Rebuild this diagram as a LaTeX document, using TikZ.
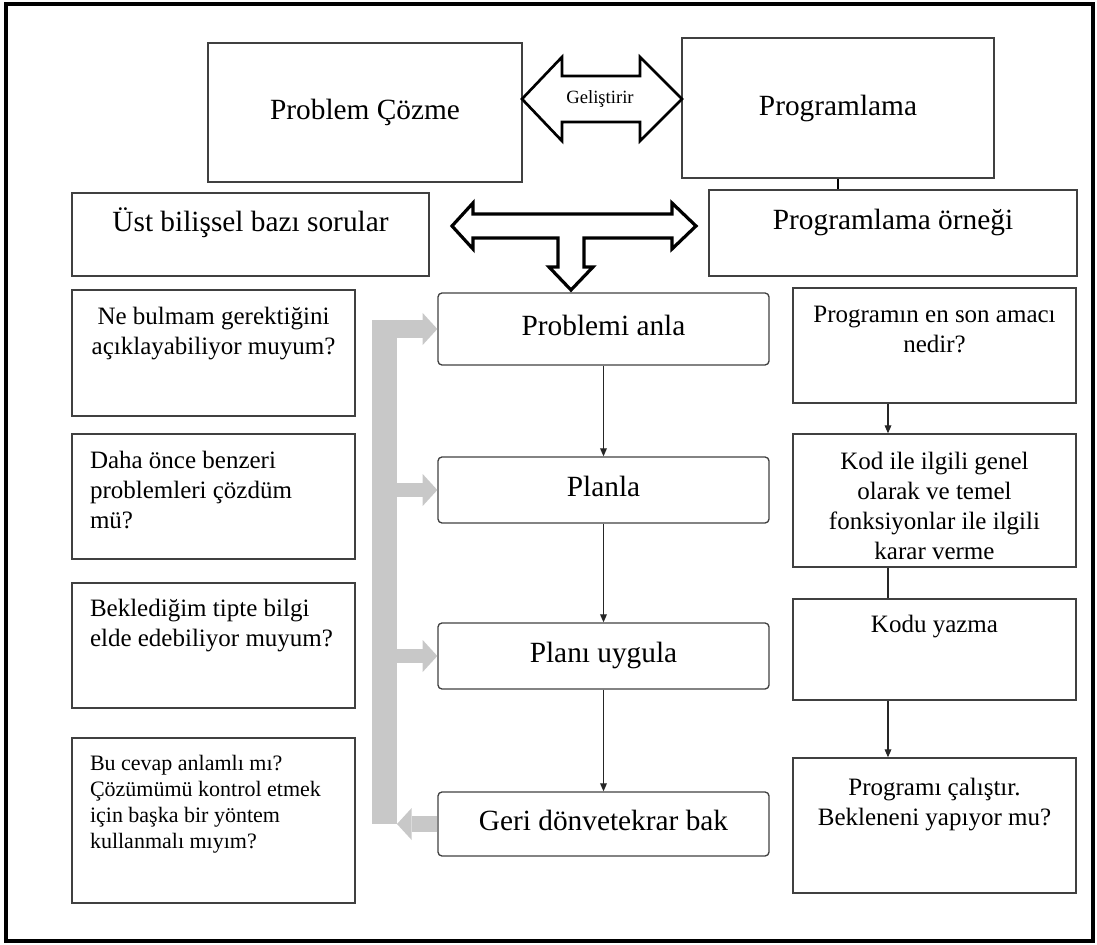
\documentclass[tikz,border=0pt]{standalone}
\usepackage{fontspec}
\setmainfont{Liberation Serif}
\usetikzlibrary{arrows.meta,calc}

\definecolor{fbgrey}{HTML}{C8C8C8}
\definecolor{boxline}{HTML}{404040}

\newcommand{\toptxt}{\fontsize{22pt}{26pt}\selectfont}
\newcommand{\celltxt}{\fontsize{18.75pt}{22.5pt}\selectfont}
\newcommand{\smalltxt}{\fontsize{16.5pt}{19.5pt}\selectfont}
\newcommand{\geltxt}{\fontsize{14pt}{16pt}\selectfont}
% #1=width, #2=height, #3=first baseline, #4=text
\newcommand{\midcell}[4]{\parbox[c][#2][t]{#1}{\centering\rule{0pt}{#3}#4}}
\newcommand{\leftcell}[4]{\parbox[c][#2][t]{#1}{\raggedright\leftskip=13.5pt\rule{0pt}{#3}#4}}

\tikzset{
  mainbox/.style={draw=boxline, line width=1.1pt, inner sep=0pt, font=\toptxt},
  stepbox/.style={draw=boxline, line width=1pt, rounded corners=3pt, minimum width=248.25pt,
    text height=15pt, text depth=5pt, font=\toptxt},
  cellbox/.style={draw=boxline, line width=1pt, inner sep=0pt, font=\celltxt},
  flow/.style={draw=black!85, line width=0.9pt, -{Triangle[length=6pt,width=5pt]}},
  fatarrow/.style={draw=black, line width=2.2pt, fill=white, line join=miter},
  fbbar/.style={draw=fbgrey, line width=18.75pt},
  fbarrow/.style={draw=fbgrey, line width=#1, -{Triangle[length=11pt,width=24pt,line width=0pt]}},
}

\begin{document}
\begin{tikzpicture}[x=0.75pt, y=-0.75pt]
  \useasboundingbox (0,0) rectangle (1097,945);
  \draw[line width=2.5pt] (6,4) rectangle (1093,941);

  % top row
  \node[mainbox, minimum width=235.5pt, minimum height=104.25pt] (solve) at (365,112.5) {Problem Çözme};
  \node[mainbox, minimum width=234pt, minimum height=105pt] (prog) at (838,108) {Programlama};
  \node[mainbox] (meta) at (250.5,234.5) {\midcell{267.75pt}{62.25pt}{29pt}{Üst bilişsel bazı sorular}};
  \node[mainbox] (example) at (893,233) {\midcell{276pt}{64.5pt}{30pt}{Programlama örneği}};

  % Geliştirir arrow
  \draw[fatarrow, line width=2pt] (522,99) -- (562,57) -- (562,76) -- (640,76) -- (640,57) -- (682,99)
    -- (640,141) -- (640,122) -- (562,122) -- (562,141) -- cycle;
  \node[font=\geltxt] (develop) at (600,99) {Geliştirir};
  \draw[line width=0.8pt] (prog.south) -- (example.north -| prog.south);

  % T arrow
  \draw[fatarrow, line width=2.4pt] (452,226) -- (473,203) -- (473,214) -- (672,214) -- (672,203) -- (696,226)
    -- (672,249) -- (672,238) -- (584,238) -- (584,267) -- (593,267) -- (571,290) -- (549,267)
    -- (558,267) -- (558,238) -- (473,238) -- (473,249) -- cycle;

  % steps
  \node[stepbox, minimum height=54pt] (understand) at (603.5,329) {Problemi anla};
  \node[stepbox, minimum height=49.5pt] (plan) at (603.5,490) {Planla};
  \node[stepbox, minimum height=49.5pt] (apply) at (603.5,656) {Planı uygula};
  \node[stepbox, minimum height=48pt] (lookback) at (603.5,824) {Geri dönvetekrar bak};

  % questions
  \node[cellbox] (q1) at (213.5,353) {\midcell{212.25pt}{94.5pt}{26pt}{Ne bulmam gerektiğini\\açıklayabiliyor muyum?}};
  \node[cellbox] (q2) at (213.5,496.5) {\leftcell{212.25pt}{93.75pt}{25.5pt}{Daha önce benzeri\\problemleri çözdüm\\mü?}};
  \node[cellbox] (q3) at (213.5,645.5) {\leftcell{212.25pt}{93.75pt}{24.75pt}{Beklediğim tipte bilgi\\elde edebiliyor muyum?}};
  \node[cellbox, font=\smalltxt] (q4) at (213.5,820.5) {\leftcell{212.25pt}{123.75pt}{24pt}{Bu cevap anlamlı mı?\\Çözümümü kontrol etmek\\için başka bir yöntem\\kullanmalı mıyım?}};

  % program example
  \node[cellbox] (r1) at (934.5,345.5) {\midcell{212.25pt}{86.25pt}{26.25pt}{Programın en son amacı\\nedir?}};
  \node[cellbox] (r2) at (934.5,500.5) {\midcell{212.25pt}{99.75pt}{26.25pt}{Kod ile ilgili genel\\olarak ve temel\\fonksiyonlar ile ilgili\\karar verme}};
  \node[cellbox] (r3) at (934.5,649.5) {\midcell{212.25pt}{75.75pt}{24.75pt}{Kodu yazma}};
  \node[cellbox] (r4) at (934.5,825.5) {\midcell{212.25pt}{101.25pt}{27.75pt}{Programı çalıştır.\\Bekleneni yapıyor mu?}};

  % connectors
  \draw[flow] (understand) -- (plan);
  \draw[flow] (plan) -- (apply);
  \draw[flow] (apply) -- (lookback);
  \coordinate (rx) at (888,0);
  \draw[flow] (r1.south -| rx) -- (r2.north -| rx);
  \draw[line width=0.9pt, black!85] (r2.south -| rx) -- (r3.north -| rx);
  \draw[flow] (r3.south -| rx) -- (r4.north -| rx);

  % feedback
  \coordinate (bartop) at (384.5,320);
  \coordinate (armstart) at (372,329);
  \draw[fbbar] (bartop) -- (lookback.west -| bartop);
  \draw[fbarrow=13.5pt] (armstart) -- (understand.west);
  \draw[fbarrow=10.5pt] (bartop |- plan.west) -- (plan.west);
  \draw[fbarrow=10.5pt] (bartop |- apply.west) -- (apply.west);
  \draw[fbarrow=12pt] (lookback.west) -- ($(bartop |- lookback.west)+(12.5,0)$);
\end{tikzpicture}
\end{document}
